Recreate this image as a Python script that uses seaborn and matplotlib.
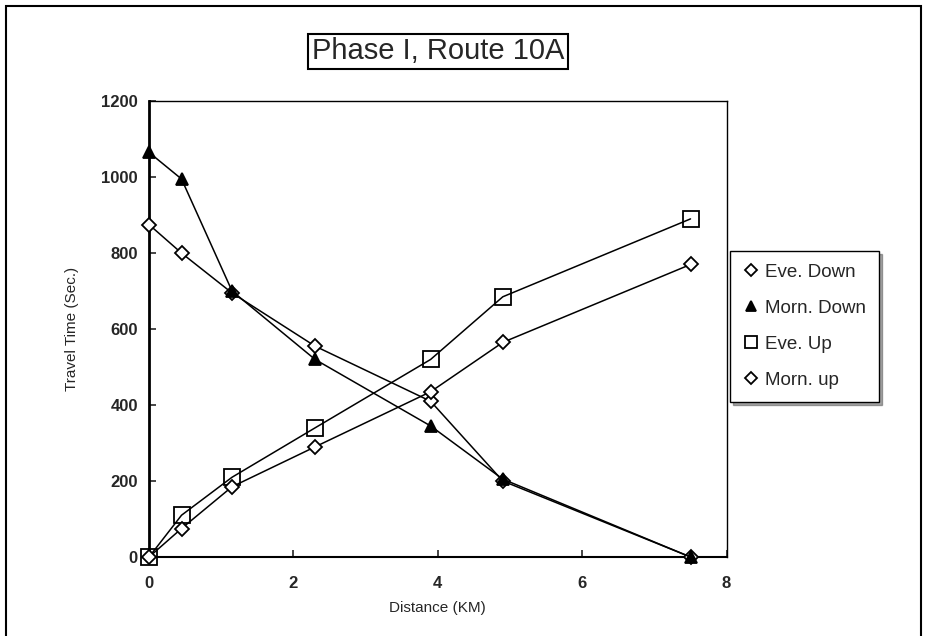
import matplotlib
matplotlib.use("Agg")
import matplotlib.pyplot as plt
from matplotlib.lines import Line2D
from matplotlib.patches import Rectangle
import pandas as pd
import seaborn as sns

# distance along the route (km)
distance = [0, 0.45, 1.15, 2.3, 3.9, 4.9, 7.5]

# travel time (sec.)
eve_down = [875, 800, 695, 555, 410, 200, 0]
morn_down = [1065, 995, 700, 520, 345, 205, 0]
eve_up = [0, 110, 210, 340, 520, 685, 890]
morn_up = [0, 75, 185, 290, 435, 565, 770]

series_names = ["Eve. Down", "Morn. Down", "Eve. Up", "Morn. up"]
x_ticks = [0, 2, 4, 6, 8]
y_ticks = [0, 200, 400, 600, 800, 1000, 1200]

sns.set_style("ticks")
plt.rcParams["font.family"] = ["Liberation Sans", "DejaVu Sans"]

fig = plt.figure(figsize=(9.28, 6.36), dpi=100)
ax = fig.add_axes([0.1606, 0.1242, 0.6224, 0.7168])

styles = {
    "Eve. Down": dict(marker="D", markersize=7, markerfacecolor="white"),
    "Morn. Down": dict(marker="^", markersize=8, markerfacecolor="black"),
    "Eve. Up": dict(marker="s", markersize=11, markerfacecolor="none"),
    "Morn. up": dict(marker="D", markersize=7, markerfacecolor="white"),
}
values = [eve_down, morn_down, eve_up, morn_up]

for name, vals in zip(series_names, values):
    df = pd.DataFrame({"Distance": distance, "Time": vals})
    sns.lineplot(data=df, x="Distance", y="Time", ax=ax, sort=False,
                 color="black", linewidth=1.1, markeredgecolor="black",
                 markeredgewidth=1.3, clip_on=False, zorder=3, **styles[name])

ax.set_xlim(0, 8)
ax.set_ylim(0, 1200)
ax.set_xticks(x_ticks)
ax.set_yticks(y_ticks)
ax.tick_params(direction="in", length=5, width=1.2, labelsize=12)
ax.tick_params(axis="x", pad=14)
ax.tick_params(axis="y", pad=8)
for lab in ax.get_xticklabels() + ax.get_yticklabels():
    lab.set_fontweight("bold")
for sp in ax.spines.values():
    sp.set_visible(True)
    sp.set_color("black")
    sp.set_linewidth(1.0)
ax.spines["left"].set_linewidth(2.0)
ax.spines["bottom"].set_linewidth(1.5)

ax.set_xlabel("Distance (KM)", fontsize=11, labelpad=7)
ax.set_ylabel("Travel Time (Sec.)", fontsize=11, labelpad=16)

ax.set_title("Phase I, Route 10A", fontsize=21, pad=30,
             bbox=dict(boxstyle="square,pad=0.12", facecolor="white",
                       edgecolor="black", linewidth=1.5))

handles = [Line2D([], [], color="black", linestyle="none", markeredgecolor="black",
                  markeredgewidth=1.3, **styles[n]) for n in series_names]
handles[0].set_markersize(6)
handles[3].set_markersize(6)
handles[2].set_markersize(9)
handles[1].set_markersize(7)
leg = fig.legend(handles, series_names, loc="center left",
                 bbox_to_anchor=(0.787, 0.487), fontsize=13.5, frameon=True,
                 fancybox=False, shadow=True, handlelength=0.8,
                 handletextpad=0.35, labelspacing=1.0, borderpad=0.7,
                 borderaxespad=0.0)
leg.get_frame().set_edgecolor("black")
leg.get_frame().set_linewidth(1.0)

# outer frame around the whole figure
fig.patches.append(Rectangle((0.006, -0.01), 0.986, 1.0, transform=fig.transFigure,
                             fill=False, edgecolor="black", linewidth=1.5))

fig.savefig("out.png", dpi=100)
